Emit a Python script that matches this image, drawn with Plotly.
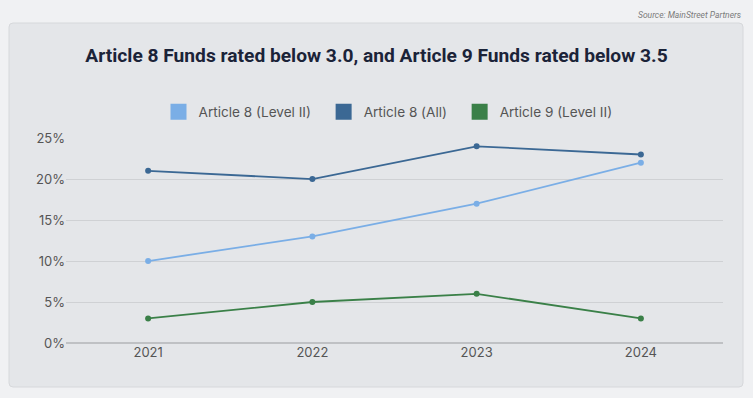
import plotly.graph_objects as go

years = ["2021", "2022", "2023", "2024"]
art8_level2 = [10, 13, 17, 22]
art8_all = [21, 20, 24, 23]
art9_level2 = [3, 5, 6, 3]
series_names = ["Article 8 (Level II)", "Article 8 (All)", "Article 9 (Level II)"]
legend_pad = ["\u00a0\u00a0", "\u00a0\u00a0", ""]
series_colors = ["#7aaee6", "#3b6894", "#3a8048"]
y_ticks = [0, 5, 10, 15, 20, 25]
y_tick_labels = ["0%", "5%", "10%", "15%", "20%", "25%"]

fig = go.Figure()
for name, vals, col in zip(series_names, [art8_level2, art8_all, art9_level2], series_colors):
    fig.add_trace(go.Scatter(x=years, y=vals, mode="lines+markers", name=name,
                             line=dict(color=col, width=1.8),
                             marker=dict(color=col, size=6),
                             showlegend=False, hoverinfo="x+y"))
for name, pad, col in zip(series_names, legend_pad, series_colors):
    fig.add_trace(go.Scatter(x=[None], y=[None], mode="markers", name=name + pad,
                             marker=dict(color=col, symbol="square", size=16),
                             showlegend=True))

L, R, T, B = 66, 30, 138, 55
W, H = 753, 398
pw, ph = W - L - R, H - T - B

def px(x):
    return (x - L) / pw

def py(y):
    return (H - B - y) / ph

x0, x1, y0, y1 = px(9), px(743), py(387), py(23)
rx, ry = 4 / pw, 4 / ph
path = (f"M {x0+rx},{y1} L {x1-rx},{y1} Q {x1},{y1} {x1},{y1-ry} "
        f"L {x1},{y0+ry} Q {x1},{y0} {x1-rx},{y0} L {x0+rx},{y0} "
        f"Q {x0},{y0} {x0},{y0+ry} L {x0},{y1-ry} Q {x0},{y1} {x0+rx},{y1} Z")

fig.update_layout(
    width=W, height=H,
    margin=dict(l=L, r=R, t=T, b=B, autoexpand=False),
    paper_bgcolor="#f0f1f3",
    plot_bgcolor="rgba(0,0,0,0)",
    font=dict(family="Inter", color="#555555", size=13),
    shapes=[dict(type="path", path=path, xref="paper", yref="paper",
                 fillcolor="#e4e6e9", line=dict(color="#d6d8db", width=1), layer="below")],
    title=dict(text="<b>Article 8 Funds rated below 3.0, and Article 9 Funds rated below 3.5</b>",
               x=(85 + 668) / 2 / W, xref="container", xanchor="center", y=1 - 55 / H, yanchor="middle",
               font=dict(family="Roboto", size=19.2, color="#1b2338")),
    legend=dict(orientation="h", x=px(388), xanchor="center",
                y=py(112), yref="paper", yanchor="middle",
                font=dict(family="Inter", size=13.6, color="#555555"),
                bgcolor="rgba(0,0,0,0)", tracegroupgap=0),
    annotations=[dict(text="<i>Source: MainStreet Partners</i>", x=px(743), y=py(15),
                      xref="paper", yref="paper", showarrow=False, xanchor="right", yanchor="middle",
                      font=dict(family="Roboto", size=8.5, color="#7a7a7a"))],
    xaxis=dict(type="category", range=[-0.5, 3.5], showgrid=False, showline=False,
               ticks="", tickfont=dict(size=13, color="#555555"), zeroline=False),
    yaxis=dict(range=[0, 25.01], tickvals=y_ticks, ticktext=y_tick_labels,
               showgrid=True, gridcolor="#cfd1d4", gridwidth=1,
               zeroline=True, zerolinecolor="#bfc1c4", zerolinewidth=2,
               ticks="", tickfont=dict(size=13, color="#555555")),
)
fig.write_html("out.html", config={"displayModeBar": False},
               post_script="document.body.style.margin='0';document.body.style.overflow='hidden';")
